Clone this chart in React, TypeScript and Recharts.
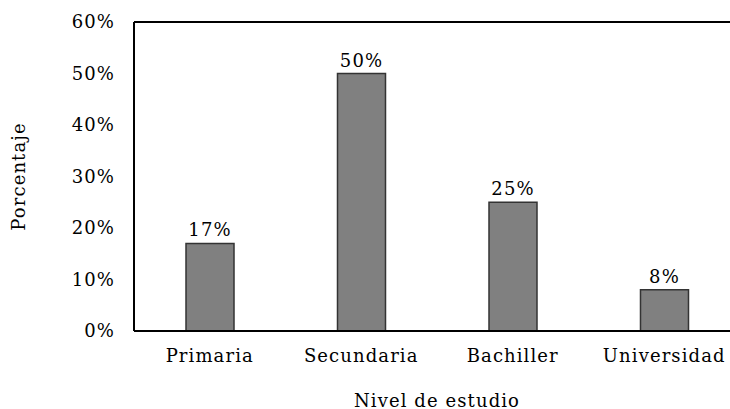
import React from "react";
import { BarChart, Bar, XAxis, YAxis, LabelList, ReferenceLine } from "recharts";

const categories = ["Primaria", "Secundaria", "Bachiller", "Universidad"];
const values = [17, 50, 25, 8];
const yTicks = [0, 10, 20, 30, 40, 50, 60];

const data = categories.map((c, i) => ({ name: c, value: values[i] }));

const FONT = "'DejaVu Serif', 'Liberation Serif', serif";
const textStyle = { fontFamily: FONT, fontSize: 18, fill: "#000", letterSpacing: 1.1 };

export default function App() {
  return (
    <div style={{ position: "absolute", left: 0, top: 0, width: 730, height: 409, overflow: "hidden", background: "#fff" }}>
      <BarChart width={740} height={409} data={data} margin={{ top: 22, right: 0, bottom: 0, left: 0 }} barSize={48}>
        <XAxis
          dataKey="name"
          height={78}
          tickLine={false}
          tickSize={0}
          tickMargin={18}
          axisLine={{ stroke: "#000", strokeWidth: 2 }}
          tick={textStyle}
          label={(props: any) => {
            const vb = props.viewBox;
            return (
              <text x={vb.x + vb.width / 2} y={400} textAnchor="middle" dominantBaseline="central" style={textStyle as any}>
                Nivel de estudio
              </text>
            );
          }}
        />
        <YAxis
          width={134}
          domain={[0, 60]}
          ticks={yTicks}
          tickFormatter={(v: number) => `${v}%`}
          tickLine={false}
          tickSize={0}
          tickMargin={19}
          axisLine={{ stroke: "#000", strokeWidth: 2 }}
          tick={textStyle}
          label={(props: any) => {
            const vb = props.viewBox;
            const cy = vb.y + vb.height / 2;
            return (
              <text x={18} y={cy} transform={`rotate(-90, 18, ${cy})`} textAnchor="middle" dominantBaseline="central" style={textStyle as any}>
                Porcentaje
              </text>
            );
          }}
        />
        <ReferenceLine y={60} stroke="#000" strokeWidth={2} />
        <Bar dataKey="value" fill="#808080" stroke="#333" strokeWidth={1.5} isAnimationActive={false}>
          <LabelList dataKey="value" position="top" offset={7} formatter={(v: any) => `${v}%`} style={textStyle as any} />
        </Bar>
      </BarChart>
    </div>
  );
}
